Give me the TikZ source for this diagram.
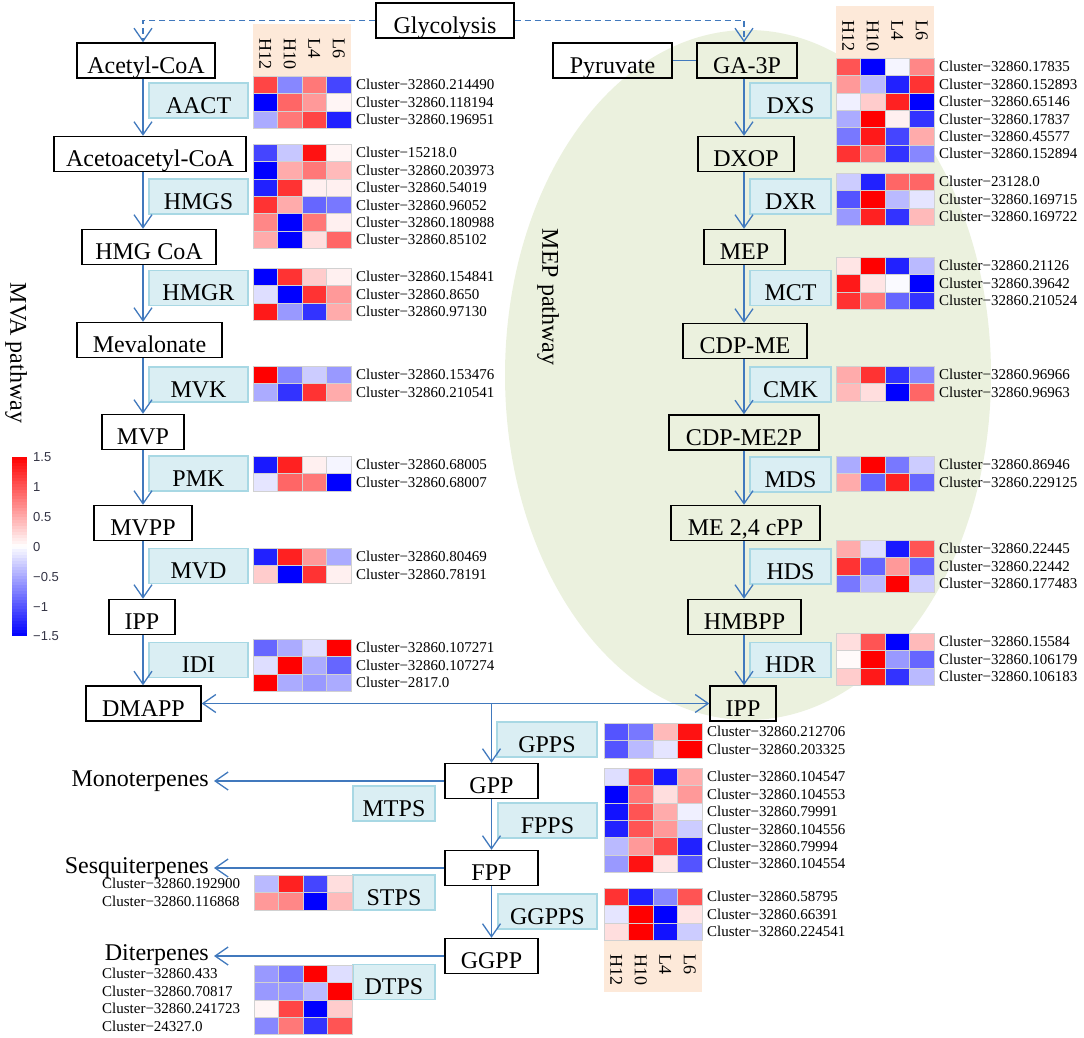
\documentclass[tikz,border=0pt]{standalone}
\usepackage{fontspec}
\setmainfont{Liberation Serif}
\newfontfamily\barfont{Liberation Sans}
\usepackage{xcolor}
\usetikzlibrary{arrows.meta, positioning}

\definecolor{flowblue}{HTML}{4179BD}
\definecolor{enzfill}{HTML}{DAEEF3}
\definecolor{enzline}{HTML}{A8D8E4}
\definecolor{headfill}{HTML}{FDE9D9}
\definecolor{mepgreen}{HTML}{EBF1DE}
\definecolor{ticktext}{HTML}{333344}

\newcommand{\bigfont}{\fontsize{24}{24}\selectfont}
\newcommand{\clusfont}{\fontsize{15}{15}\selectfont}
\newcommand{\smpfont}{\fontsize{18}{18}\selectfont}

% heat map: x, y (top), rows of signed percentages
\newcommand{\heatmap}[3]{%
  \foreach \hrow [count=\r] in {#3} {%
    \foreach \hval [count=\c] in \hrow {%
      \pgfmathtruncatemacro\hpct{abs(\hval)}%
      \ifnum\hval>0 \def\hhue{red}\else\def\hhue{blue}\fi
      \filldraw[fill=\hhue!\hpct!white, draw=white!82!black, line width=0.4pt]
        ({#1+(\c-1)*24.5},{#2+(\r-1)*17.4}) rectangle ++(24.5,17.4);
    }%
  }%
}
% cluster names: name, x, y (top), labels
\newcommand{\clusters}[4]{%
  \foreach \lbl [count=\r] in {#4}
    \node[clus] (#1\r) at (#2,{#3+(\r-0.5)*17.4}) {\lbl};
}
% sample header: name, x, y (top)
\newcommand{\samples}[3]{%
  \fill[headfill] (#2,#3) rectangle ++(98,52);
  \foreach \smp [count=\c] in {H12,H10,L4,L6}
    \node[smp] (#1\c) at ({#2+(\c-0.5)*24.5},{#3+14}) {\smp};
}

\begin{document}
\begin{tikzpicture}[x=1pt, y=-1pt,
  >={Straight Barb[length=13pt,width=18pt]},
  metab/.style={draw, line width=1.4pt, inner sep=0pt, minimum height=35pt,
    text height=25pt, text depth=0pt, font=\bigfont},
  enz/.style={draw=enzline, fill=enzfill, line width=1.4pt, inner sep=0pt,
    minimum height=35pt, text height=25pt, text depth=0pt, font=\bigfont},
  flow/.style={draw=flowblue, line width=1.3pt},
  glycflow/.style={flow, dash pattern=on 6pt off 4pt},
  clus/.style={anchor=west, inner sep=1pt, font=\clusfont},
  smp/.style={rotate=-90, anchor=west, inner sep=0pt, font=\smpfont},
  prod/.style={anchor=base east, inner sep=5pt, font=\bigfont},
  tick/.style={anchor=west, inner sep=0pt, font=\barfont\fontsize{13}{13}\selectfont, text=ticktext}]
\useasboundingbox (0,0) rectangle (1084,1037);

% MEP pathway background
\fill[mepgreen] (748,375) ellipse [x radius=243pt, y radius=345pt];

% columns of the arrows
\coordinate (mva) at (143,0);
\coordinate (mep) at (744,0);
\coordinate (ter) at (491.5,0);

% metabolites
\node[metab, minimum width=138pt] (glyc) at (445,20.5) {Glycolysis};
\node[metab, minimum width=138pt] (acetyl) at (146,60.5) {Acetyl-CoA};
\node[metab, minimum width=192pt] (acetoac) at (150,154) {Acetoacetyl-CoA};
\node[metab, minimum width=134pt] (hmgcoa) at (149,247) {HMG CoA};
\node[metab, minimum width=145pt] (meva) at (149.5,340) {Mevalonate};
\node[metab, minimum width=82pt] (mvp) at (143,432) {MVP};
\node[metab, minimum width=98pt] (mvpp) at (143,523) {MVPP};
\node[metab, minimum width=66pt] (ippa) at (142,617) {IPP};
\node[metab, minimum width=115pt] (dmapp) at (143.5,703.5) {DMAPP};

\node[metab, minimum width=119pt] (pyr) at (612.5,60.5) {Pyruvate};
\node[metab, minimum width=100pt] (ga3p) at (747,60.5) {GA-3P};
\node[metab, minimum width=96pt] (dxop) at (746,154) {DXOP};
\node[metab, minimum width=81pt] (mepm) at (744.5,247) {MEP};
\node[metab, minimum width=124pt] (cdpme) at (745,341) {CDP-ME};
\node[metab, minimum width=150pt] (cdpmep) at (744,432.5) {CDP-ME2P};
\node[metab, minimum width=149pt] (mecpp) at (745.5,523) {ME 2,4 cPP};
\node[metab, minimum width=113pt] (hmbpp) at (744.5,617) {HMBPP};
\node[metab, minimum width=66pt] (ippb) at (743,703.5) {IPP};

\node[metab, minimum width=93pt] (gpp) at (491.5,781) {GPP};
\node[metab, minimum width=93pt] (fpp) at (491.5,868) {FPP};
\node[metab, minimum width=93pt] (ggpp) at (491.5,956) {GGPP};

% products
\node[prod] (mono) at (214,786) {Monoterpenes};
\node[prod] (sesq) at (214,873) {Sesquiterpenes};
\node[prod] (dite) at (214,960) {Diterpenes};

% enzymes
\node[enz, minimum width=99pt] (aact) at (198.5,100.5) {AACT};
\node[enz, minimum width=99pt] (hmgs) at (198.5,196.5) {HMGS};
\node[enz, minimum width=99pt] (hmgr) at (198.5,288) {HMGR};
\node[enz, minimum width=99pt] (mvk) at (198.5,384.5) {MVK};
\node[enz, minimum width=99pt] (pmk) at (198.5,473.5) {PMK};
\node[enz, minimum width=99pt] (mvd) at (198.5,566) {MVD};
\node[enz, minimum width=99pt] (idi) at (198.5,660) {IDI};

\node[enz, minimum width=81pt] (dxs) at (790.5,100.5) {DXS};
\node[enz, minimum width=81pt] (dxr) at (790.5,196.5) {DXR};
\node[enz, minimum width=81pt] (mct) at (790.5,288) {MCT};
\node[enz, minimum width=81pt] (cmk) at (790.5,384.5) {CMK};
\node[enz, minimum width=81pt] (mds) at (790.5,474.5) {MDS};
\node[enz, minimum width=81pt] (hds) at (790.5,566.5) {HDS};
\node[enz, minimum width=81pt] (hdr) at (790.5,660) {HDR};

\node[enz, minimum width=100pt] (gpps) at (547,739.5) {GPPS};
\node[enz, minimum width=99pt] (fpps) at (547.5,820.5) {FPPS};
\node[enz, minimum width=99pt] (ggpps) at (547.5,911.5) {GGPPS};
\node[enz, minimum width=82pt] (mtps) at (394,803.5) {MTPS};
\node[enz, minimum width=82pt] (stps) at (394,892.5) {STPS};
\node[enz, minimum width=82pt] (dtps) at (394,982) {DTPS};

% pathway names
\node[rotate=-90, font=\bigfont] (mvalbl) at (16,353) {MVA pathway};
\node[rotate=-90, font=\bigfont] (meplbl) at (548,297) {MEP pathway};

% arrows
\draw[glycflow, ->] (glyc.west) -| (mva |- acetyl.north);
\draw[glycflow, ->] (glyc.east) -| (mep |- ga3p.north);
\draw[flow] (pyr.east) -- (ga3p.west);
\foreach \a/\b in {acetyl/acetoac, acetoac/hmgcoa, hmgcoa/meva, meva/mvp,
                   mvp/mvpp, mvpp/ippa, ippa/dmapp}
  \draw[flow, ->] (mva |- \a.south) -- (mva |- \b.north);
\foreach \a/\b in {ga3p/dxop, dxop/mepm, mepm/cdpme, cdpme/cdpmep,
                   cdpmep/mecpp, mecpp/hmbpp, hmbpp/ippb}
  \draw[flow, ->] (mep |- \a.south) -- (mep |- \b.north);
\draw[flow, <->] (dmapp.east) -- (ippb.west);
\coordinate (fork) at (ter |- dmapp.east);
\draw[flow, ->] (fork) -- (ter |- gpp.north);
\draw[flow, ->] (ter |- gpp.south) -- (ter |- fpp.north);
\draw[flow, ->] (ter |- fpp.south) -- (ter |- ggpp.north);
\draw[flow, ->] (gpp.west) -- (gpp.west -| mono.east);
\draw[flow, ->] (fpp.west) -- (fpp.west -| sesq.east);
\draw[flow, ->] (ggpp.west) -- (ggpp.west -| dite.east);

% sample headers
\samples{smpa}{253}{24}
\samples{smpb}{836}{6}
\samples{smpc}{604}{940}

% heat maps, MVA side
\heatmap{253}{76}{{73,-47,53,-73},{-100,60,40,4},{-33,53,73,-87}}
\clusters{aactc}{355}{76}{Cluster−32860.214490,Cluster−32860.118194,Cluster−32860.196951}
\heatmap{253}{144}{{-73,-22,93,4},{-100,33,53,27},{-87,80,6,6},{80,33,-60,-53},{47,-100,53,6},{33,-100,13,60}}
\clusters{hmgsc}{355}{144}{Cluster−15218.0,Cluster−32860.203973,Cluster−32860.54019,Cluster−32860.96052,Cluster−32860.180988,Cluster−32860.85102}
\heatmap{253}{268}{{-100,80,20,6},{-13,-100,80,40},{90,-40,-80,33}}
\clusters{hmgrc}{355}{268}{Cluster−32860.154841,Cluster−32860.8650,Cluster−32860.97130}
\heatmap{253}{366}{{100,-47,-20,-40},{-33,-80,80,33}}
\clusters{mvkc}{355}{366}{Cluster−32860.153476,Cluster−32860.210541}
\heatmap{253}{456}{{-90,87,6,-4},{-10,60,53,-100}}
\clusters{pmkc}{355}{456}{Cluster−32860.68005,Cluster−32860.68007}
\heatmap{253}{548}{{-87,87,40,-33},{20,-100,80,6}}
\clusters{mvdc}{355}{548}{Cluster−32860.80469,Cluster−32860.78191}
\heatmap{253}{639}{{-60,-33,-13,100},{-13,100,-33,-60},{100,-33,-40,-33}}
\clusters{idic}{355}{639}{Cluster−32860.107271,Cluster−32860.107274,Cluster−2817.0}

% heat maps, MEP side
\heatmap{836}{58}{{67,-100,-4,47},{40,-27,-87,80},{-6,20,87,-100},{-33,100,6,-80},{-53,90,-73,33},{80,53,-80,-47}}
\clusters{dxsc}{938}{58}{Cluster−32860.17835,Cluster−32860.152893,Cluster−32860.65146,Cluster−32860.17837,Cluster−32860.45577,Cluster−32860.152894}
\heatmap{836}{173}{{-20,-87,60,60},{-67,100,-27,-10},{-40,87,-80,27}}
\clusters{dxrc}{938}{173}{Cluster−23128.0,Cluster−32860.169715,Cluster−32860.169722}
\heatmap{836}{257}{{10,100,-87,-27},{90,10,-2,-100},{80,53,-60,-80}}
\clusters{mctc}{938}{257}{Cluster−32860.21126,Cluster−32860.39642,Cluster−32860.210524}
\heatmap{836}{366}{{33,80,-80,-47},{27,13,-100,60}}
\clusters{cmkc}{938}{366}{Cluster−32860.96966,Cluster−32860.96963}
\heatmap{836}{456}{{-33,100,-53,-20},{33,-60,87,-60}}
\clusters{mdsc}{938}{456}{Cluster−32860.86946,Cluster−32860.229125}
\heatmap{836}{540}{{33,-13,-90,67},{80,-60,40,-60},{-53,-27,100,-20}}
\clusters{hdsc}{938}{540}{Cluster−32860.22445,Cluster−32860.22442,Cluster−32860.177483}
\heatmap{836}{633}{{13,67,-100,27},{2,100,-40,-60},{20,90,-80,-27}}
\clusters{hdrc}{938}{633}{Cluster−32860.15584,Cluster−32860.106179,Cluster−32860.106183}

% heat maps, terpene branch
\heatmap{604}{723}{{-67,-53,27,93},{-67,-27,-10,100}}
\clusters{gppsc}{706}{723}{Cluster−32860.212706,Cluster−32860.203325}
\heatmap{604}{768}{{-13,73,-90,33},{-100,53,13,40},{-93,67,33,-6},{-87,67,40,-20},{-27,40,73,-87},{-40,93,10,-67}}
\clusters{fppsc}{706}{768}{Cluster−32860.104547,Cluster−32860.104553,Cluster−32860.79991,Cluster−32860.104556,Cluster−32860.79994,Cluster−32860.104554}
\heatmap{604}{888}{{80,-87,-47,67},{-10,100,-100,10},{13,100,-93,-20}}
\clusters{ggppsc}{706}{888}{Cluster−32860.58795,Cluster−32860.66391,Cluster−32860.224541}
\heatmap{254}{875}{{-27,87,-73,13},{40,47,-100,27}}
\clusters{stpsc}{101}{875}{Cluster−32860.192900,Cluster−32860.116868}
\heatmap{254}{965}{{-40,-53,100,-13},{-40,-40,-27,100},{4,73,-100,20},{-47,53,-80,67}}
\clusters{dtpsc}{101}{965}{Cluster−32860.433,Cluster−32860.70817,Cluster−32860.241723,Cluster−24327.0}

% colour key
\foreach \i in {0,...,59} {
  \pgfmathsetmacro\cv{100-(\i+0.5)*100/30}
  \pgfmathtruncatemacro\cpct{abs(\cv)}
  \ifdim\cv pt>0pt \def\hhue{red}\else\def\hhue{blue}\fi
  \fill[\hhue!\cpct!white] (12,{457+\i*179/60}) rectangle (27,{457+(\i+1)*179/60+0.3});
}
\foreach \t/\ty [count=\k] in {1.5/457, 1/487, 0.5/517, 0/547, −0.5/577, −1/607, −1.5/636}
  \node[tick] (key\k) at (33,\ty) {\t};
\end{tikzpicture}
\end{document}
